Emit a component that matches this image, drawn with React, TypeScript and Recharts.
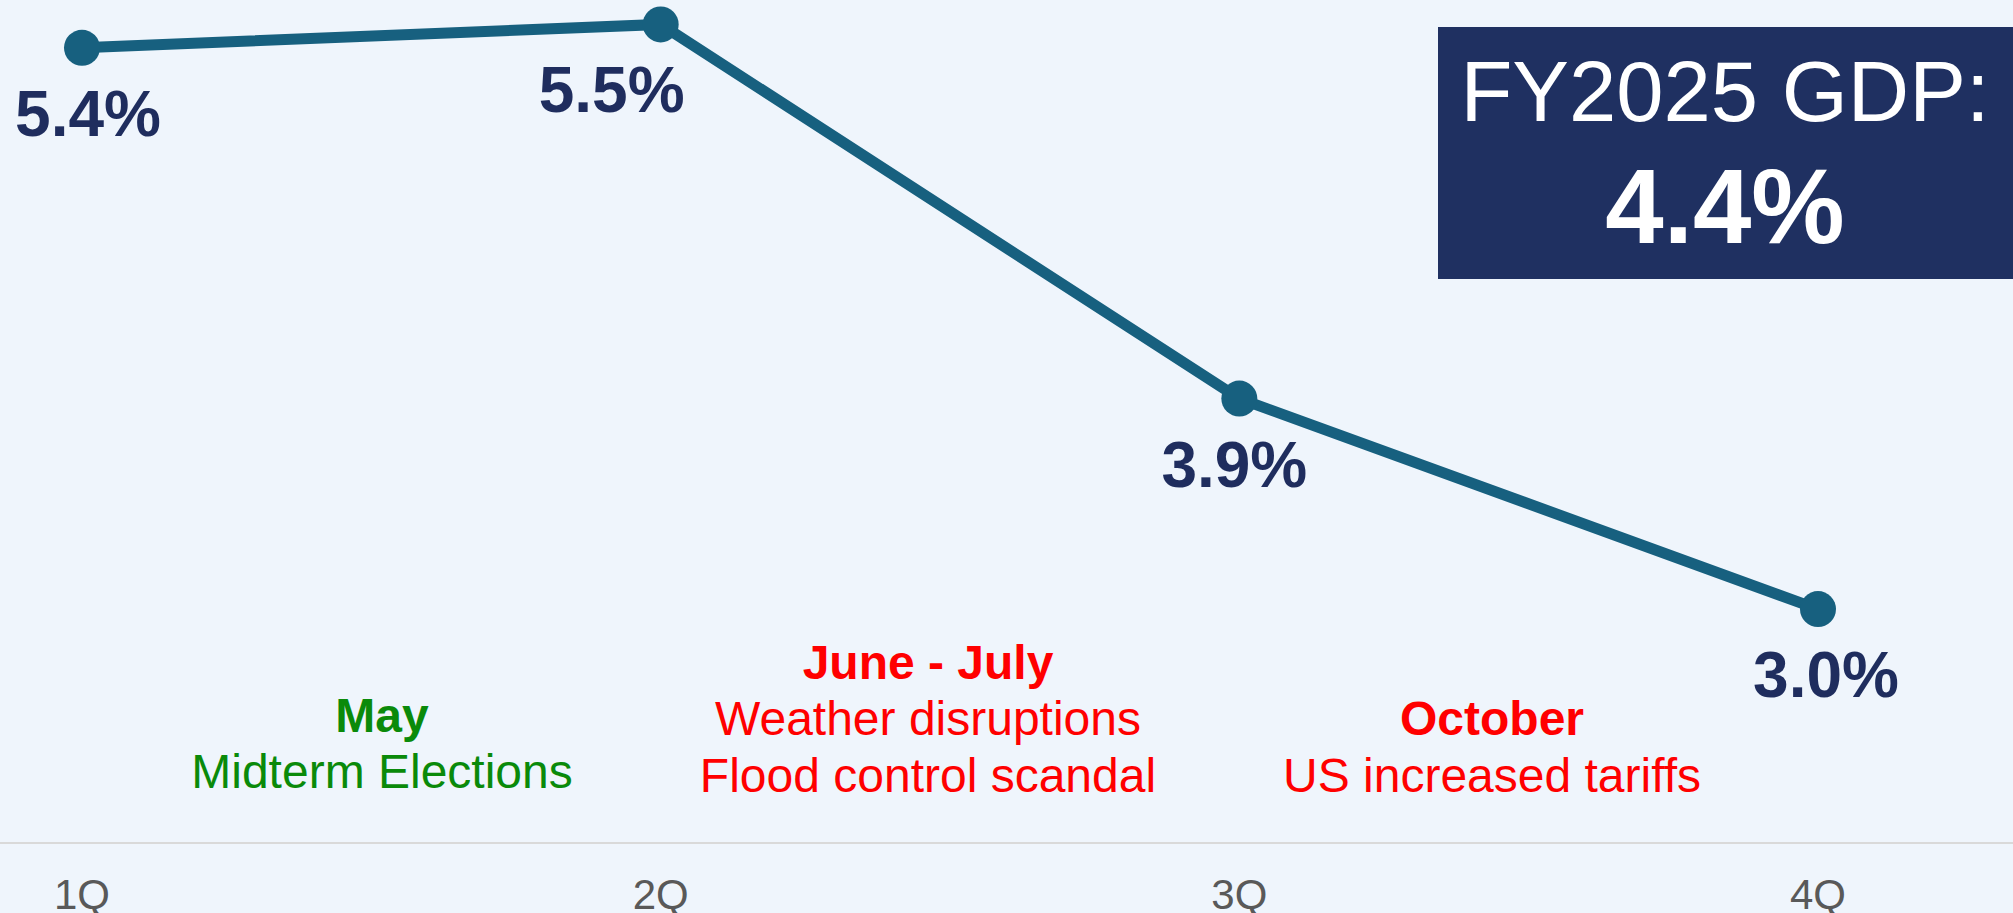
import React from "react";
import { LineChart, Line, XAxis, YAxis, LabelList } from "recharts";

const quarters = ["1Q", "2Q", "3Q", "4Q"];
const gdpGrowth = [5.4, 5.5, 3.9, 3.0];
const labelShift = [6, -49, -5, 8];

const fyTitle = "FY2025 GDP:";
const fyValue = "4.4%";

const annotations = [
  { cx: 382, lines: [{ t: "May", bold: true, y: 732 }, { t: "Midterm Elections", bold: false, y: 788 }], color: "#0a8a0a" },
  {
    cx: 928,
    lines: [
      { t: "June - July", bold: true, y: 679 },
      { t: "Weather disruptions", bold: false, y: 735 },
      { t: "Flood control scandal", bold: false, y: 792 },
    ],
    color: "#ff0000",
  },
  { cx: 1492, lines: [{ t: "October", bold: true, y: 735 }, { t: "US increased tariffs", bold: false, y: 792 }], color: "#ff0000" },
];

const data = quarters.map((q, i) => ({ q, v: gdpGrowth[i], i }));

const FONT = "'Liberation Sans', Arial, Helvetica, sans-serif";
const LINE = "#17607f";
const NAVY = "#1f2d5e";

const renderLabel = (props: any) => {
  const { x, y, value, index } = props;
  return (
    <text
      x={x + (labelShift[index] ?? 0)}
      y={y + 88}
      textAnchor="middle"
      fontSize={64}
      fontWeight="bold"
      fill={NAVY}
      fontFamily={FONT}
    >
      {Number(value).toFixed(1)}%
    </text>
  );
};

export default function App() {
  return (
    <div style={{ position: "absolute", left: 0, top: 0, width: 2013, height: 913, background: "#eff5fc", fontFamily: FONT }}>
      <LineChart width={2013} height={913} data={data} margin={{ top: 1, right: 0, left: 0, bottom: 0 }}>
        <XAxis
          dataKey="q"
          padding={{ left: 82, right: 195 }}
          height={70}
          axisLine={{ stroke: "#d9d9d9", strokeWidth: 2 }}
          tickLine={false}
          tickSize={0}
          tickMargin={36}
          tick={{ fill: "#595959", fontSize: 42, fontFamily: FONT }}
        />
        <YAxis hide domain={[2, 5.6]} type="number" />
        <Line
          type="linear"
          dataKey="v"
          stroke={LINE}
          strokeWidth={11}
          dot={{ r: 18, fill: LINE, stroke: "none" }}
          activeDot={false}
          isAnimationActive={false}
        >
          <LabelList dataKey="v" content={renderLabel} />
        </Line>
      </LineChart>
      <svg
        width={2013}
        height={913}
        style={{ position: "absolute", left: 0, top: 0, pointerEvents: "none" }}
      >
        {annotations.map((a, k) =>
          a.lines.map((l, j) => (
            <text
              key={`${k}-${j}`}
              x={a.cx}
              y={l.y}
              textAnchor="middle"
              fontSize={48}
              fontWeight={l.bold ? "bold" : "normal"}
              fill={a.color}
              fontFamily={FONT}
            >
              {l.t}
            </text>
          ))
        )}
        <rect x={1438} y={27} width={575} height={252} fill="#1f3061" />
        <text x={1725} y={121} textAnchor="middle" fontSize={85} fill="#ffffff" fontFamily={FONT}>
          {fyTitle}
        </text>
        <text x={1725} y={243} textAnchor="middle" fontSize={105} fontWeight="bold" fill="#ffffff" fontFamily={FONT}>
          {fyValue}
        </text>
      </svg>
    </div>
  );
}
